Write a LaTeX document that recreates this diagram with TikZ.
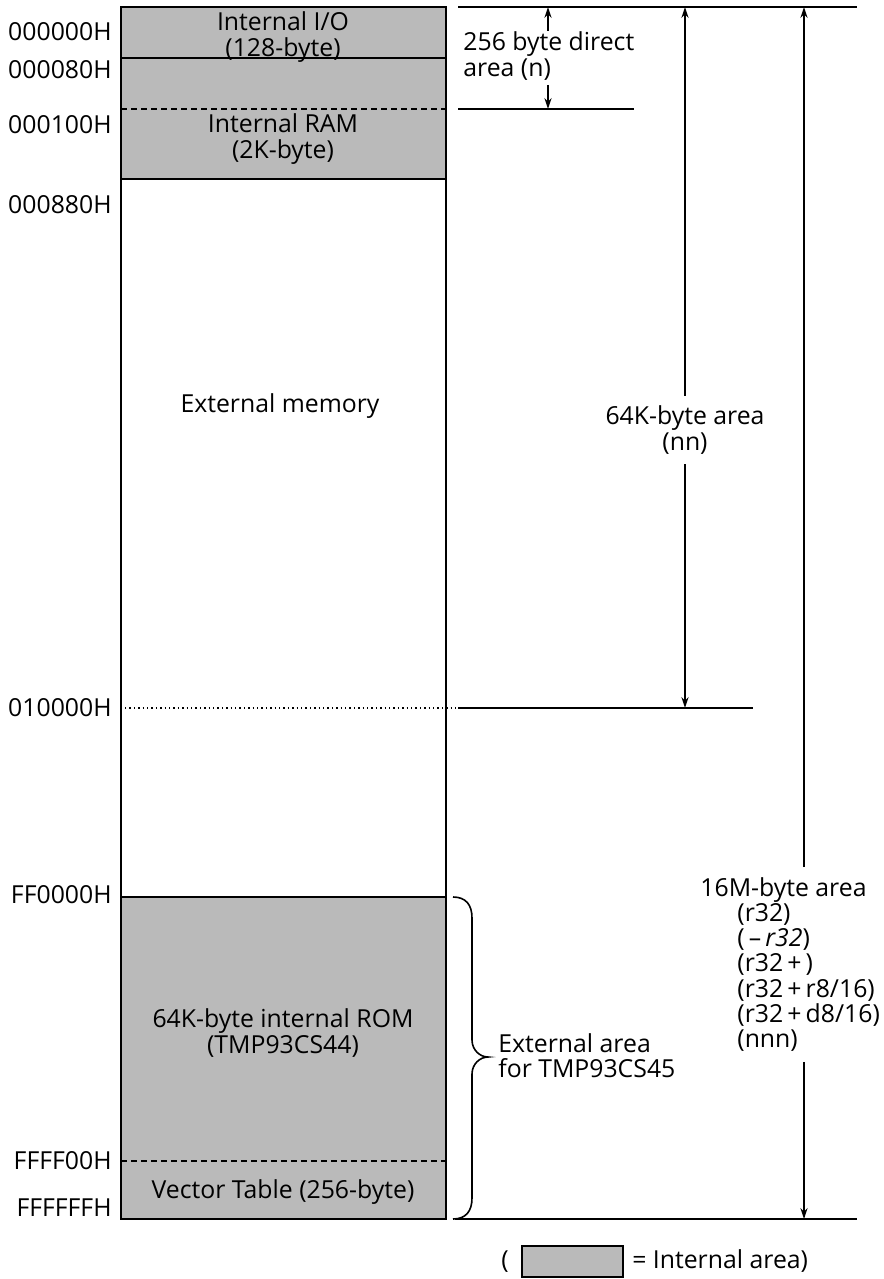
\documentclass[tikz,border=0pt]{standalone}
\usepackage{fontspec}
\setmainfont{Open Sans}
\usetikzlibrary{arrows.meta,positioning}

\begin{document}
\begin{tikzpicture}[
    x=0.5pt,
    y=-0.5pt,
    >={Stealth[length=5.5pt,width=3.6pt]},
    font=\fontsize{12.4}{12.6}\selectfont,
    every node/.style={inner sep=0pt},
    area/.style={draw, line width=0.9pt},
    internal/.style={area, fill=black!27},
    addr/.style={anchor=east},
    bound/.style={line width=0.9pt},
    dim/.style={line width=0.8pt},
    split/.style={line width=0.7pt, dash pattern=on 3pt off 2pt},
    fine/.style={line width=0.7pt, dash pattern=on 0.7pt off 1.5pt}
]

\useasboundingbox (0,0) rectangle (883,1279);

% parameters
\def\xl{121}        % left edge of the map
\def\xr{446}        % right edge of the map
\def\yTop{7}        % 000000H
\def\yIO{58}        % 000080H
\def\yDir{109}      % 000100H
\def\yRAM{179}      % 000880H
\def\yK{708}        % 010000H
\def\yROM{897}      % FF0000H
\def\yVec{1161}     % FFFF00H
\def\yBot{1219}     % FFFFFFH

% ---------------- Memory map ----------------
\draw[internal] (\xl,\yTop) rectangle (\xr,\yRAM);
\draw[area] (\xl,\yRAM) rectangle (\xr,\yROM);
\draw[internal] (\xl,\yROM) rectangle (\xr,\yBot);
\draw[area] (\xl,\yIO) -- (\xr,\yIO);
\draw[split] (\xl,\yDir) -- (\xr,\yDir);
\draw[split] (\xl,\yVec) -- (\xr,\yVec);
\draw[fine] (\xl+4,\yK) -- (458,\yK);

\node[align=center] (io) at (283,37) {Internal I/O\\(128-byte)};
\node[align=center] (ram) at (283,139) {Internal RAM\\(2K-byte)};
\node (ext) at (280,406) {External memory};
\node[align=center] (rom) at (283,1033) {64K-byte internal ROM\\(TMP93CS44)};
\node (vec) at (283,1192) {Vector Table (256-byte)};

% address labels
\foreach \y/\t in {32/000000H, 70/000080H, 125/000100H, 205/000880H,
                   708/010000H, 895/FF0000H, 1161/FFFF00H, 1208/FFFFFFH}{
    \node[addr] (a\t) at (112,\y) {\t};
}

% ---------------- Boundary lines ----------------
\coordinate (topL) at (458,\yTop);
\coordinate (topR) at (857,\yTop);
\coordinate (dirL) at (458,\yDir);
\coordinate (dirR) at (634,\yDir);
\coordinate (kL) at (458,\yK);
\coordinate (kR) at (753,\yK);
\coordinate (botL) at (455,\yBot);
\coordinate (botR) at (857,\yBot);

\draw[bound] (topL) -- (topR);
\draw[bound] (dirL) -- (dirR);
\draw[bound] (kL) -- (kR);
\draw[bound] (botL) -- (botR);

% ---------------- 256 byte direct area ----------------
\coordinate (x256) at (548,\yTop);
\node[align=left, anchor=west] (n256) at (463,56) {256 byte direct\\area (n)};
\draw[dim,->] (x256 |- 0,31) -- (x256);
\draw[dim,->] (x256 |- 0,85) -- (x256 |- dirL);

% ---------------- 64K-byte area ----------------
\coordinate (x64) at (685,\yTop);
\node[align=center, inner ysep=5pt] (n64) at (685,430) {64K-byte area\\(nn)};
\draw[dim,->] (n64.north) -- (x64);
\draw[dim,->] (n64.south) -- (x64 |- kL);

% ---------------- 16M-byte area ----------------
\coordinate (x16) at (804,\yTop);
\node[align=left, anchor=north west, inner ysep=5pt] (n16) at (700,867) {16M-byte area\\
    \hspace*{18.5pt}(r32)\\
    \hspace*{18.5pt}(\,–\,\textit{r32})\\
    \hspace*{18.5pt}(r32\,+\,)\\
    \hspace*{18.5pt}(r32\,+\,r8/16)\\
    \hspace*{18.5pt}(r32\,+\,d8/16)\\
    \hspace*{18.5pt}(nnn)};
\draw[dim,->] (n16.north -| x16) -- (x16);
\draw[dim,->] (n16.south -| x16) -- (x16 |- botL);

% ---------------- External area brace ----------------
\draw[dim] (453,\yROM) .. controls (466,\yROM) and (472,905) .. (472,918)
    -- (472,1040) .. controls (472,1050) and (480,1057) .. (488,1057)
    .. controls (480,1057) and (472,1064) .. (472,1074)
    -- (472,1198) .. controls (472,1211) and (466,\yBot) .. (453,\yBot);
\node[align=left, anchor=west] (n45) at (498,1056) {External area\\for TMP93CS45};

% ---------------- Legend ----------------
\node[internal, minimum width=50.5pt, minimum height=15.5pt] (legbox) at (572.5,1261.5) {};
\node[left=6pt of legbox] (legopen) {(};
\node[right=4pt of legbox] (legtext) {= Internal area)};

\end{tikzpicture}
\end{document}
